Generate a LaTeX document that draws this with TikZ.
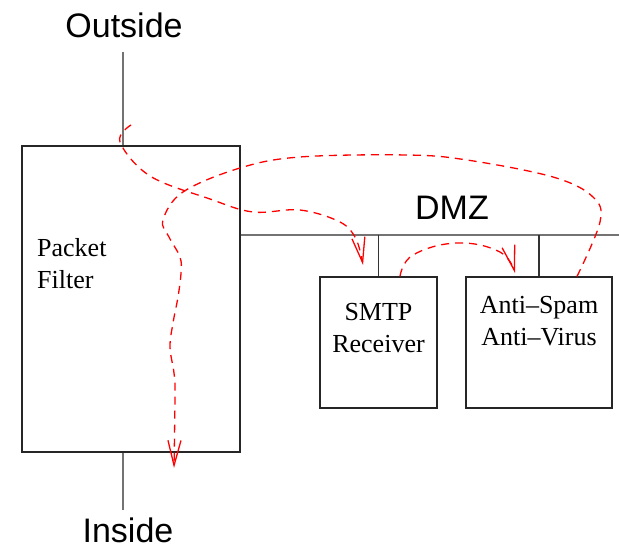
\documentclass[tikz,border=0pt]{standalone}
\usepackage{fontspec}
\setmainfont{Liberation Serif}
\setsansfont{Liberation Sans}
\usetikzlibrary{arrows.meta,calc}

\tikzset{
  box/.style={draw=black!85, line width=1.2pt, rectangle, inner sep=0pt},
  wire/.style={draw=black!55, line width=1.3pt},
  stub/.style={draw=black!80, line width=1.2pt},
  biglbl/.style={font=\fontsize{34}{40}\sffamily, inner sep=0pt},
  boxlbl/.style={font=\fontsize{26}{32}\selectfont, inner sep=0pt},
  flow/.style={red, line width=1.3pt, dash pattern=on 8pt off 6pt, ->},
  >={Straight Barb[length=25pt,width=13pt]}
}

\begin{document}
\begin{tikzpicture}[x=1pt, y=1pt]
\useasboundingbox (0,0) rectangle (619,549);

% boxes
\node[box, minimum width=218pt, minimum height=306pt] (filter) at (131,250) {};
\node[box, minimum width=117pt, minimum height=131pt] (smtp) at (378.5,206.5) {};
\node[box, minimum width=146pt, minimum height=131pt] (anti) at (539,206.5) {};

% labels
\node[biglbl, anchor=base] (outside) at (124,511) {Outside};
\node[biglbl, anchor=base] (inside) at (128,6) {Inside};
\node[biglbl, anchor=base] (dmz) at (452,329) {DMZ};
\node[boxlbl, anchor=base west, align=left] (filtertxt) at (37,260) {Packet\\Filter};
\node[boxlbl, anchor=base, align=center] (smtptxt) at (378.5,196) {SMTP\\Receiver};
\node[boxlbl, anchor=base, align=center] (antitxt) at (539,203) {Anti--Spam\\Anti--Virus};

% wires
\coordinate (outtop) at (123,497);
\coordinate (inbot) at (123,39);
\coordinate (dmzend) at (619,314);
\draw[wire] (outtop) -- (outtop |- filter.north);
\draw[wire] (inbot |- filter.south) -- (inbot);
\draw[wire] (dmzend -| filter.east) -- (dmzend);
\draw[stub] (smtp.north) -- (smtp.north |- dmzend);
\draw[stub] (anti.north) -- (anti.north |- dmzend);

% mail flow
\coordinate (f1) at (131,424);
\coordinate (f2) at ($(smtp.north)+(21.5,0)$);
\coordinate (f3) at ($(anti.north)+(38,0)$);
\draw[flow] plot[smooth, tension=0.6] coordinates {(f1) (120,407) (150,373) (210,350) (253,337) (300,339) (340,327) (356,310) (363,284)};
\draw[flow] plot[smooth, tension=0.7] coordinates {(f2) (413,294) (457,306) (500,297) (515,276)};
\draw[flow] plot[smooth, tension=0.6] coordinates {(f3) (600,327) (593,352) (553,372) (467,389) (407,394) (300,392) (240,381) (183,357) (163,329) (169,312) (180,292) (181,276) (178,252) (173,226) (170,202) (174,176) (175,156) (174,81)};

\end{tikzpicture}
\end{document}
